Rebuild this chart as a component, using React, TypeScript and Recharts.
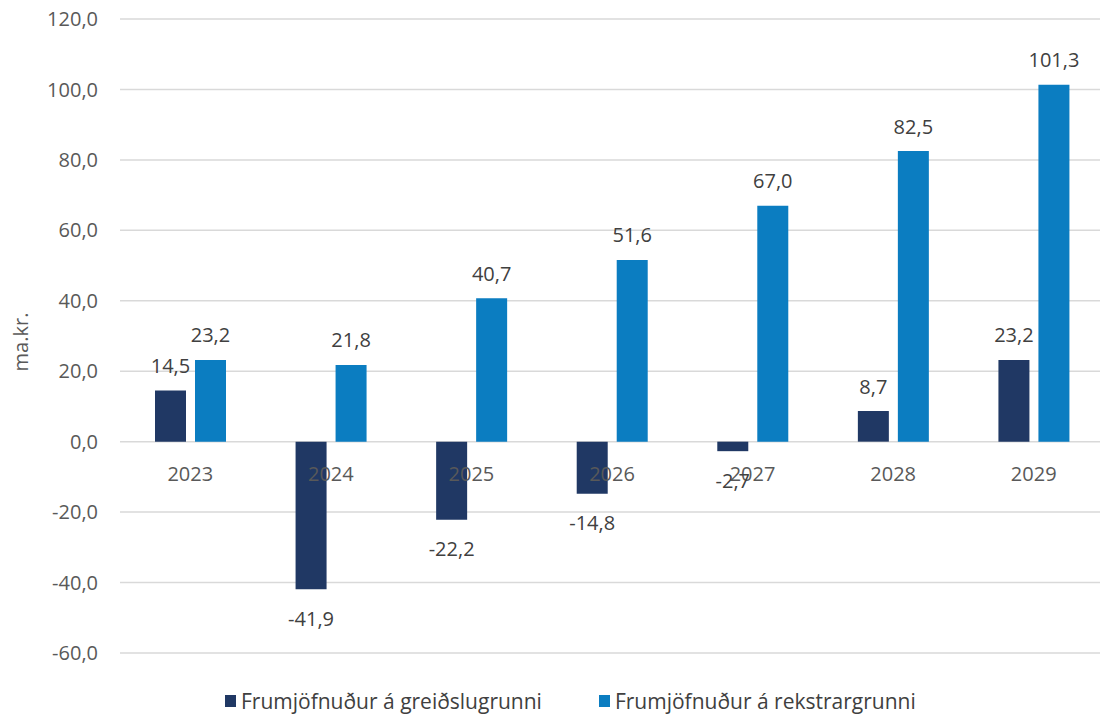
import React from "react";
import {
  BarChart,
  Bar,
  XAxis,
  YAxis,
  CartesianGrid,
  LabelList,
} from "recharts";

const years = ["2023", "2024", "2025", "2026", "2027", "2028", "2029"];
const greidslugrunnur = [14.5, -41.9, -22.2, -14.8, -2.7, 8.7, 23.2];
const rekstrargrunnur = [23.2, 21.8, 40.7, 51.6, 67.0, 82.5, 101.3];
const yTicks = [-60, -40, -20, 0, 20, 40, 60, 80, 100, 120];
const seriesNames = ["Frumjöfnuður á greiðslugrunni", "Frumjöfnuður á rekstrargrunni"];

const DARK = "#203864";
const BLUE = "#0B7DC1";
const FONT = "'Open Sans', sans-serif";

const Y_MIN = -60;
const Y_MAX = 120;
const PLOT_TOP = 19;
const PLOT_H = 634;
const CHART_H = 715;

const data = years.map((year, i) => ({
  year,
  greidsla: greidslugrunnur[i],
  rekstur: rekstrargrunnur[i],
}));

const fmt = (v: number) => v.toFixed(1).replace(".", ",");

// category labels sit just under the zero line, like the Excel original
const YearTick = (props: any) => {
  const { x, y, payload } = props;
  const zeroY = y - (PLOT_H * (0 - Y_MIN)) / (Y_MAX - Y_MIN);
  return (
    <text
      x={x}
      y={zeroY + 32}
      textAnchor="middle"
      dominantBaseline="central"
      fontFamily={FONT}
      fontSize={20}
      fill="#595959"
    >
      {payload.value}
    </text>
  );
};

const BarValue = (props: any) => {
  const { x, y, width, height, value } = props;
  const top = Math.min(y, y + height);
  const bottom = Math.max(y, y + height);
  const ty = value >= 0 ? top - 25 : bottom + 29;
  return (
    <text
      x={x + width / 2}
      y={ty}
      textAnchor="middle"
      dominantBaseline="central"
      fontFamily={FONT}
      fontSize={20}
      fill="#404040"
    >
      {fmt(value)}
    </text>
  );
};

const UnitLabel = (props: any) => {
  const { viewBox } = props;
  const cy = viewBox.y + viewBox.height / 2 + 6;
  return (
    <text
      x={20}
      y={cy}
      transform={`rotate(-90, 20, ${cy})`}
      textAnchor="middle"
      dominantBaseline="central"
      fontFamily={FONT}
      fontSize={20}
      fill="#595959"
    >
      ma.kr.
    </text>
  );
};

export default function App() {
  return (
    <div
      style={{
        position: "absolute",
        left: 0,
        top: 0,
        width: 1100,
        height: 715,
        overflow: "hidden",
        background: "#fff",
      }}
    >
      <BarChart
        width={1104}
        height={CHART_H}
        data={data}
        margin={{ top: PLOT_TOP, right: 0, left: 0, bottom: 0 }}
        barCategoryGap={35}
        barGap={9}
      >
        <CartesianGrid vertical={false} stroke="#D9D9D9" strokeWidth={1.5} />
        <XAxis
          dataKey="year"
          axisLine={false}
          tickLine={false}
          tickSize={0}
          tickMargin={0}
          height={CHART_H - PLOT_TOP - PLOT_H}
          tick={<YearTick />}
          interval={0}
        />
        <YAxis
          width={120}
          domain={[Y_MIN, Y_MAX]}
          ticks={yTicks}
          axisLine={false}
          tickLine={false}
          tickSize={0}
          tickMargin={22}
          tickFormatter={fmt}
          tick={{ fontFamily: FONT, fontSize: 20, fill: "#595959" }}
          label={<UnitLabel />}
        />
        <Bar dataKey="greidsla" name={seriesNames[0]} fill={DARK} isAnimationActive={false}>
          <LabelList dataKey="greidsla" content={<BarValue />} />
        </Bar>
        <Bar dataKey="rekstur" name={seriesNames[1]} fill={BLUE} isAnimationActive={false}>
          <LabelList dataKey="rekstur" content={<BarValue />} />
        </Bar>
      </BarChart>
      <div
        style={{
          position: "absolute",
          left: 225,
          top: 687,
          display: "flex",
          alignItems: "center",
          fontFamily: FONT,
          fontSize: 21,
          color: "#404040",
          whiteSpace: "nowrap",
        }}
      >
        {seriesNames.map((name, i) => (
          <div
            key={name}
            style={{ display: "flex", alignItems: "center", marginRight: i === 0 ? 57 : 0 }}
          >
            <span
              style={{
                display: "inline-block",
                width: 11,
                height: 12,
                background: i === 0 ? DARK : BLUE,
                marginRight: 5,
              }}
            />
            <span>{name}</span>
          </div>
        ))}
      </div>
    </div>
  );
}
